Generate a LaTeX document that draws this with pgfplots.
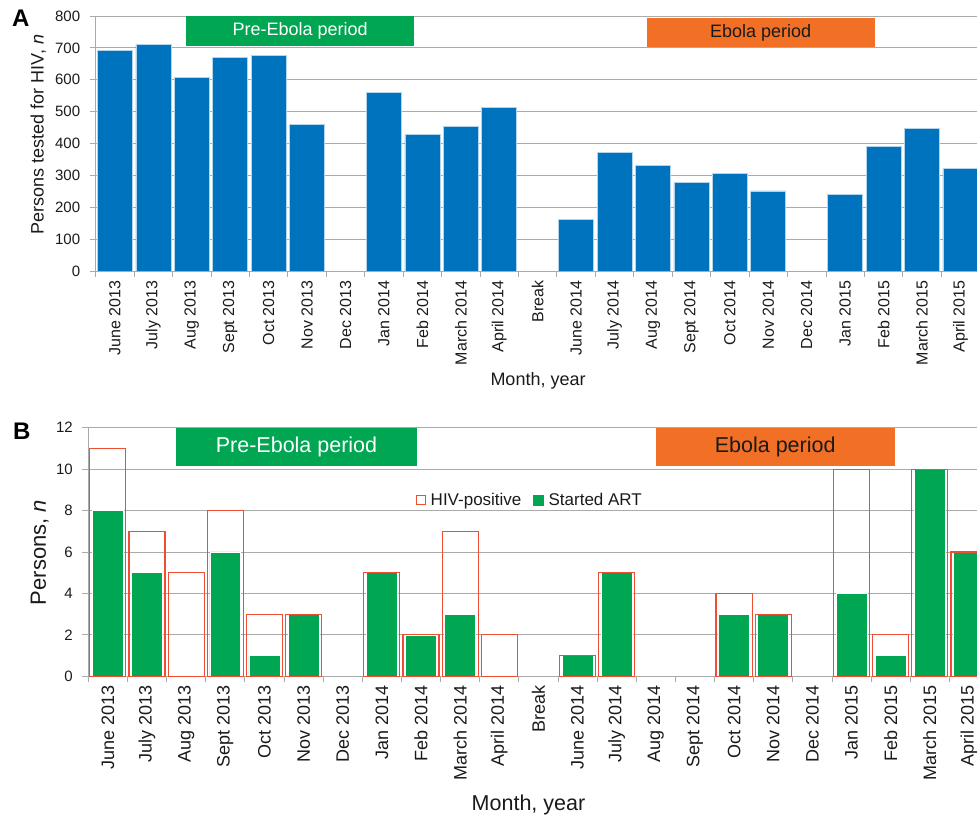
\documentclass[border=0pt]{standalone}
\usepackage{fontspec}
\setmainfont{Liberation Sans}
\usepackage{pgfplots}
\pgfplotsset{compat=1.18}

\definecolor{barblue}{RGB}{0,115,190}
\definecolor{artgreen}{RGB}{0,166,81}
\definecolor{hivred}{RGB}{240,78,50}
\definecolor{ebolaorange}{RGB}{242,112,38}
\definecolor{gridgray}{RGB}{170,170,170}
\definecolor{txt}{RGB}{26,26,26}

\newcommand{\fs}[1]{\fontsize{#1bp}{#1bp}\selectfont}

\begin{document}
\begin{tikzpicture}
\pgfplotsset{
  every axis/.append style={
    scale only axis, anchor=south west,
    axis lines*=left,
    axis line style={draw=gridgray, line width=0.8bp, -},
    ymajorgrids, grid style={draw=gridgray, line width=0.8bp},
    tick align=outside, major tick length=6bp, minor tick length=6bp,
    xtick={0,...,22},
    xticklabels={June 2013, July 2013, Aug 2013, Sept 2013, Oct 2013, Nov 2013, Dec 2013,
      Jan 2014, Feb 2014, March 2014, April 2014, Break, June 2014, July 2014, Aug 2014,
      Sept 2014, Oct 2014, Nov 2014, Dec 2014, Jan 2015, Feb 2015, March 2015, April 2015},
    xtick style={draw=none},
    minor xtick={-0.5,0.5,...,22.5},
    minor x tick style={draw=gridgray, line width=0.8bp},
    ytick style={draw=gridgray, line width=0.8bp},
    xticklabel style={rotate=90, anchor=east, text=txt},
    yticklabel style={text=txt, xshift=-6bp},
    /pgf/number format/assume math mode=true,
  },
}

% A: persons tested
\begin{axis}[
  at={(95.7bp,545bp)}, width=882bp, height=255bp,
  xmin=-0.5, xmax=22.45, ymin=0, ymax=800,
  ytick={0,100,...,800},
  ticklabel style={font=\fs{15}},
  xticklabel style={font=\fs{16}},
  ylabel={Persons tested for HIV, \textit{n}},
  ylabel style={at={(axis description cs:-0.065,0.535)}, anchor=center, font=\fs{18}, text=txt},
  xlabel={Month, year},
  xlabel style={at={(axis description cs:0.5015,-0.431)}, anchor=center, font=\fs{18}, text=txt},
]
\addplot[ybar, bar width=0.91, bar shift=0pt, fill=barblue, draw=white!70!barblue, line width=0.6bp]
  coordinates {
    (0,692) (1,710) (2,608) (3,670) (4,676) (5,460)
    (7,561) (8,428) (9,453) (10,513)
    (12,161) (13,372) (14,331) (15,277) (16,306) (17,251)
    (19,240) (20,391) (21,447) (22,321)
  };
\fill[artgreen] (axis cs:1.85,800) rectangle (axis cs:7.79,705);
\node[white, font=\fs{18}] at (axis cs:4.82,752) {Pre-Ebola period};
\fill[ebolaorange] (axis cs:13.84,795) rectangle (axis cs:19.79,702);
\node[txt, font=\fs{18}] at (axis cs:16.8,748) {Ebola period};
\end{axis}

% B: HIV-positive and started ART
\begin{axis}[
  at={(88.3bp,139.7bp)}, width=900.2bp, height=248.6bp,
  xmin=-0.5, xmax=22.5, ymin=0, ymax=12,
  ytick={0,2,...,12},
  ticklabel style={font=\fs{15}},
  xticklabel style={font=\fs{18}},
  ylabel={Persons, \textit{n}},
  ylabel style={at={(axis description cs:-0.054,0.498)}, anchor=center, font=\fs{22}, text=txt},
  xlabel={Month, year},
  xlabel style={at={(axis description cs:0.489,-0.519)}, anchor=center, font=\fs{21.5}, text=txt},
  legend style={at={(axis cs:10.78,8.5)}, anchor=center, draw=none, fill=none,
    font=\fs{17}, text=txt, legend columns=2,
    /tikz/every even column/.append style={column sep=10bp}},
]
% Started ART
\addplot[ybar, bar width=0.79, bar shift=0pt, fill=artgreen, draw=white, line width=0.6bp, forget plot]
  coordinates {
    (0,8) (1,5) (3,6) (4,1) (5,3)
    (7,5) (8,2) (9,3)
    (12,1) (13,5) (16,3) (17,3)
    (19,4) (20,1) (21,10) (22,6)
  };
% HIV-positive
\addplot[ybar, bar width=0.92, bar shift=0pt, fill=none, draw=hivred, line width=1.2bp, forget plot]
  coordinates {
    (0,11) (1,7) (2,5) (3,8) (4,3) (5,3)
    (7,5) (8,2) (9,7) (10,2)
    (12,1) (13,5) (16,4) (17,3)
    (19,10) (20,2) (21,10) (22,6)
  };
\addlegendimage{legend image code/.code={\draw[hivred, fill=white, line width=1.2bp] (0.6bp,-4.4bp) rectangle (9.4bp,4.4bp); \path[draw=none, fill=none] (0bp,0bp) rectangle (13bp,0.1bp);}}
\addlegendentry{HIV-positive}
\addlegendimage{legend image code/.code={\fill[artgreen] (0bp,-5bp) rectangle (10bp,5bp); \path[draw=none, fill=none] (0bp,0bp) rectangle (13bp,0.1bp);}}
\addlegendentry{Started ART}
\fill[artgreen] (axis cs:1.74,12) rectangle (axis cs:7.9,10.17);
\node[white, font=\fs{21.5}] at (axis cs:4.82,11.08) {Pre-Ebola period};
\fill[ebolaorange] (axis cs:14.0,12) rectangle (axis cs:20.11,10.17);
\node[txt, font=\fs{21.5}] at (axis cs:17.05,11.08) {Ebola period};
\end{axis}

\node[anchor=base west, font=\bfseries\fs{24}, inner sep=0pt] at (12bp,789bp) {A};
\node[anchor=base west, font=\bfseries\fs{24}, inner sep=0pt] at (13bp,376bp) {B};

\pgfresetboundingbox
\path[use as bounding box] (0bp,0bp) rectangle (977bp,816bp);
\end{tikzpicture}
\end{document}
